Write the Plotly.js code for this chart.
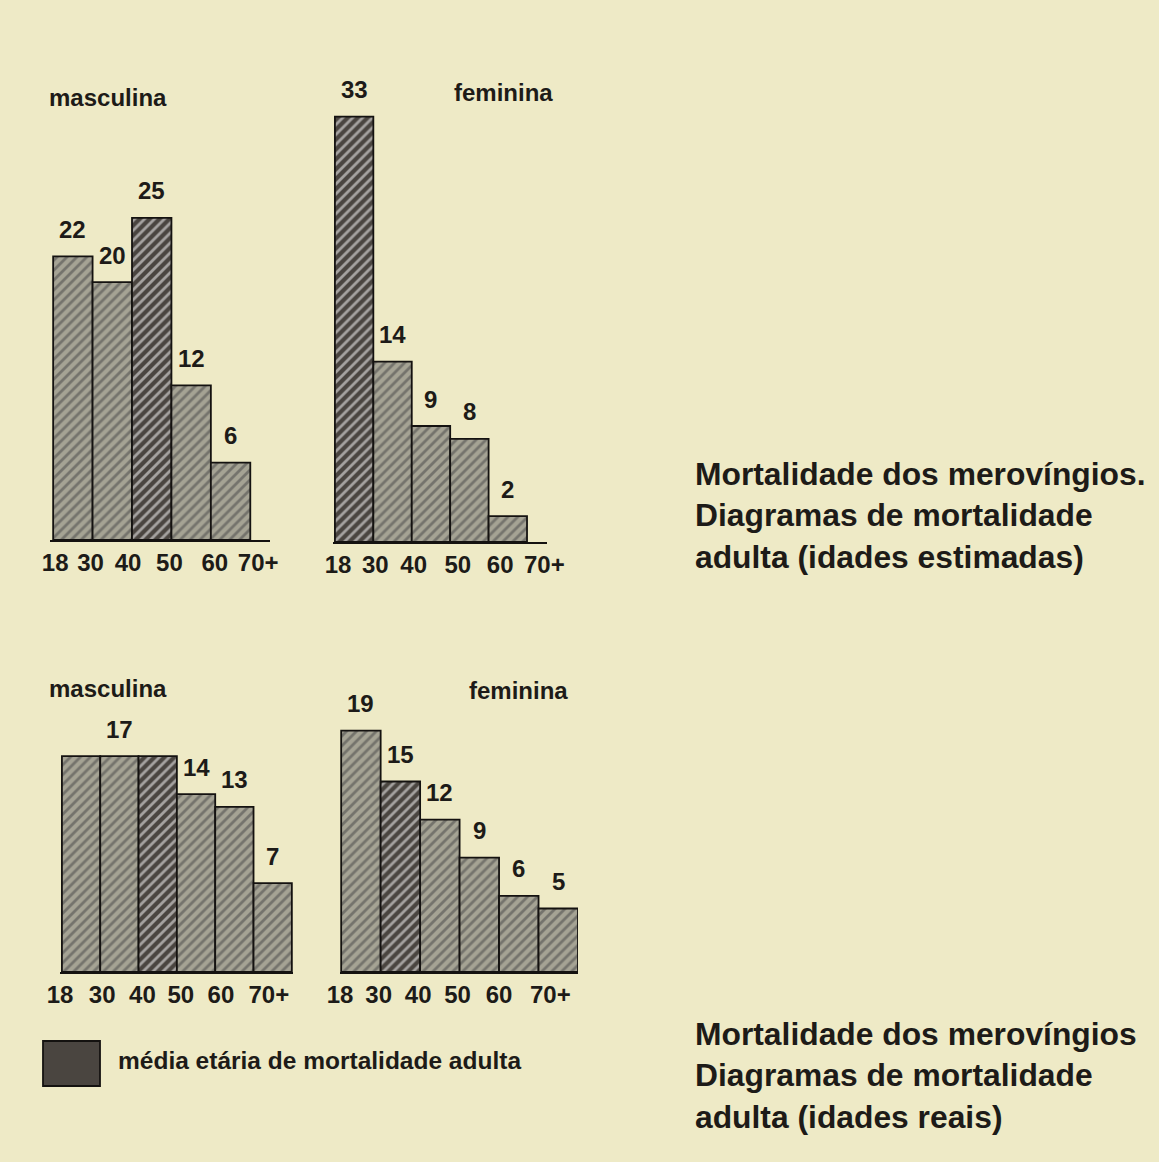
<!DOCTYPE html>
<html>
<head>
<meta charset="utf-8">
<script src="https://cdn.plot.ly/plotly-3.0.1.min.js"></script>
<style>
html,body{margin:0;padding:0;background:#eeeac6;}
#chart{width:1159px;height:1162px;}
</style>
</head>
<body>
<div id="chart"></div>
<script>
// ---- data ----
const ageLabels = ["18", "30", "40", "50", "60", "70+"];

const estMascValues = [22, 20, 25, 12, 6];
const estMascLabels = ["22", "20", "25", "12", "6"];
const estMascMedianIdx = 2;

const estFemValues = [33, 14, 9, 8, 2];
const estFemLabels = ["33", "14", "9", "8", "2"];
const estFemMedianIdx = 0;

const realMascValues = [17, 17, 17, 14, 13, 7];
const realMascLabels = ["", "17", "", "14", "13", "7"];
const realMascMedianIdx = 2;

const realFemValues = [19, 15, 12, 9, 6, 5];
const realFemLabels = ["19", "15", "12", "9", "6", "5"];
const realFemMedianIdx = 1;

const panelTitles = ["masculina", "feminina", "masculina", "feminina"];
const captionTop = ["Mortalidade dos merovíngios.", "Diagramas de mortalidade", "adulta (idades estimadas)"];
const captionBottom = ["Mortalidade dos merovíngios", "Diagramas de mortalidade", "adulta (idades reais)"];
const legendText = "média etária de mortalidade adulta";

// ---- styling ----
const W = 1159, H = 1162;
const FONT = "Liberation Sans, Arial, sans-serif";
const TXT = "#1d1b18";
const GRAY_BG = "#a5a394", GRAY_FG = "#858376";
const DARK_BG = "#4a4540", DARK_FG = "#2d2a26";

const fx = px => px / W;
const fy = py => 1 - py / H;

// panel geometry in pixels: axis line x-span, y of baseline, top of plot area
const panels = [
  {vals: estMascValues, labels: estMascLabels, med: estMascMedianIdx, x0: 50, x1: 270, xr: [-0.08, 5.5], base: 540, top: 76, yr: [0, 36], tick: [0.05, 0.95, 1.9, 2.95, 4.1, 5.2], title: [108, 97]},
  {vals: estFemValues, labels: estFemLabels, med: estFemMedianIdx, x0: 333, x1: 547, xr: [-0.05, 5.52], base: 542, top: 78, yr: [0, 36], tick: [0.08, 1.05, 2.05, 3.2, 4.3, 5.45], title: [503, 92]},
  {vals: realMascValues, labels: realMascLabels, med: realMascMedianIdx, x0: 60, x1: 293, xr: [-0.05, 6.03], base: 972, top: 718, yr: [0, 20], tick: [-0.05, 1.05, 2.1, 3.1, 4.15, 5.4], title: [108, 688]},
  {vals: realFemValues, labels: realFemLabels, med: realFemMedianIdx, x0: 340, x1: 578, xr: [-0.03, 6.0], base: 972, top: 718, yr: [0, 20], tick: [-0.03, 0.95, 1.95, 2.95, 4.0, 5.3], title: [518, 690]}
];

const data = [];
const annotations = [];
const layout = {
  width: W, height: H,
  margin: {l: 0, r: 0, t: 0, b: 0},
  paper_bgcolor: "#eeeac6",
  plot_bgcolor: "rgba(0,0,0,0)",
  showlegend: false,
  font: {family: FONT, color: TXT},
  bargap: 0
};

panels.forEach((p, k) => {
  const n = k + 1;
  const xa = n === 1 ? "x" : "x" + n;
  const ya = n === 1 ? "y" : "y" + n;
  const xKey = n === 1 ? "xaxis" : "xaxis" + n;
  const yKey = n === 1 ? "yaxis" : "yaxis" + n;
  const xs = p.vals.map((v, i) => i + 0.5);
  data.push({
    type: "bar",
    x: xs,
    y: p.vals,
    width: p.vals.map(() => 1),
    xaxis: xa, yaxis: ya,
    hoverinfo: "skip",
    cliponaxis: false,
    marker: {
      color: p.vals.map((v, i) => i === p.med ? DARK_BG : GRAY_BG),
      line: {color: "#141210", width: 1.8},
      pattern: {
        shape: "/",
        fillmode: "overlay",
        bgcolor: p.vals.map((v, i) => i === p.med ? DARK_BG : GRAY_BG),
        fgcolor: p.vals.map((v, i) => i === p.med ? DARK_FG : GRAY_FG),
        size: 7,
        solidity: 0.4
      }
    }
  });
  layout[xKey] = {
    domain: [fx(p.x0), fx(p.x1)],
    range: p.xr,
    anchor: ya,
    showgrid: false, zeroline: false,
    showline: true, linecolor: "#141210", linewidth: 2,
    tickmode: "array",
    tickvals: p.tick,
    ticktext: ageLabels,
    ticks: "",
    tickfont: {family: FONT, size: 24, color: TXT, weight: "bold"},
    fixedrange: true
  };
  layout[yKey] = {
    domain: [fy(p.base), fy(p.top)],
    range: p.yr,
    anchor: xa,
    visible: false,
    fixedrange: true
  };
  p.labels.forEach((t, i) => {
    if (!t) return;
    annotations.push({
      xref: xa, yref: ya, x: xs[i], y: p.vals[i],
      text: t, showarrow: false, yanchor: "middle", yshift: 27,
      font: {family: FONT, size: 24, color: TXT, weight: "bold"}
    });
  });
  annotations.push({
    xref: "paper", yref: "paper", x: fx(p.title[0]), y: fy(p.title[1]),
    xanchor: "center", yanchor: "middle",
    text: panelTitles[k], showarrow: false,
    font: {family: FONT, size: 24, color: TXT, weight: "bold"}
  });
});

annotations.push({
  xref: "paper", yref: "paper", x: fx(693), y: fy(515),
  xanchor: "left", yanchor: "middle", align: "left",
  text: captionTop.join("<br>"), showarrow: false,
  font: {family: FONT, size: 31.8, color: TXT, weight: "bold"}
});
annotations.push({
  xref: "paper", yref: "paper", x: fx(693), y: fy(1075),
  xanchor: "left", yanchor: "middle", align: "left",
  text: captionBottom.join("<br>"), showarrow: false,
  font: {family: FONT, size: 31.8, color: TXT, weight: "bold"}
});
annotations.push({
  xref: "paper", yref: "paper", x: fx(116), y: fy(1060),
  xanchor: "left", yanchor: "middle", align: "left",
  text: legendText, showarrow: false,
  font: {family: FONT, size: 24.5, color: TXT, weight: "bold"}
});

layout.annotations = annotations;
layout.shapes = [{
  type: "rect", xref: "paper", yref: "paper",
  x0: fx(43), x1: fx(100), y0: fy(1086), y1: fy(1041),
  fillcolor: DARK_BG, line: {color: "#141210", width: 1.8}
}];

Plotly.newPlot("chart", data, layout, {displayModeBar: false, staticPlot: true});
</script>
</body>
</html>
